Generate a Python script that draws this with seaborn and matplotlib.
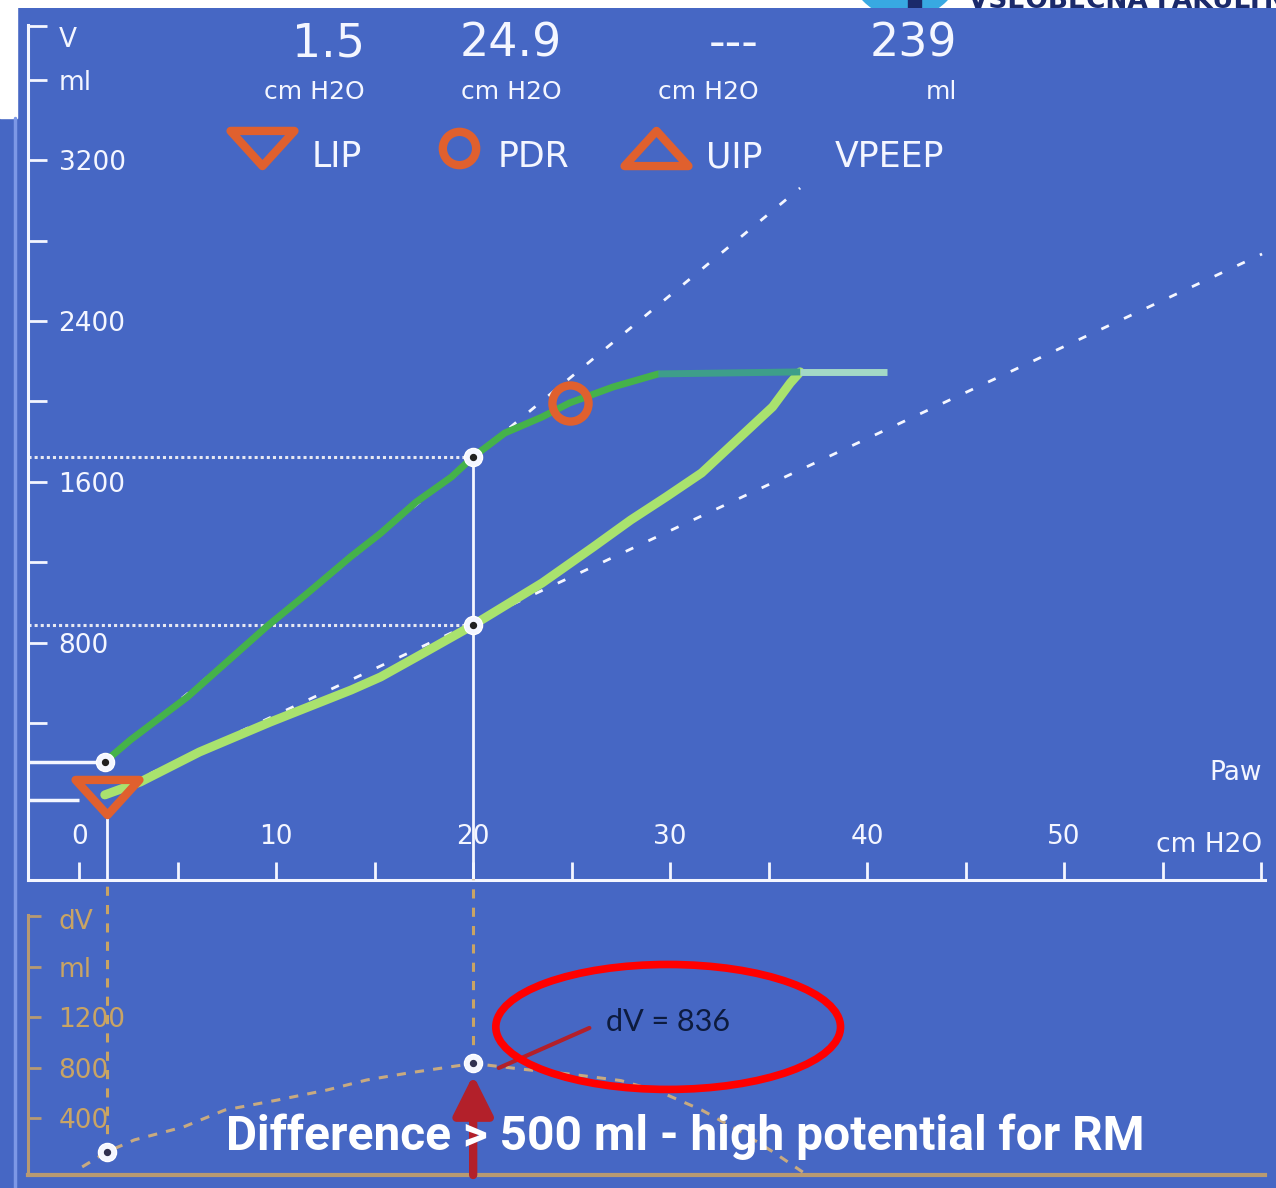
import matplotlib
matplotlib.use("Agg")
import matplotlib.pyplot as plt
from matplotlib.patches import Rectangle, Ellipse, Circle
from matplotlib.lines import Line2D
from matplotlib.path import Path
import seaborn as sns

# ---- values ----
# inflation limb (light green), Paw in cmH2O / V in ml
press_insp = [1.3, 3.1, 6.1, 9.7, 13.8, 15.3, 17.3, 20.0, 23.5, 26.1, 28.0, 29.8,
              31.6, 33.4, 35.2, 36.1, 36.6, 41.0]
vol_insp = [45, 109, 258, 407, 566, 631, 740, 889, 1098, 1277, 1411, 1526,
            1645, 1809, 1973, 2092, 2147, 2147]
# deflation limb (dark green)
press_exp = [1.3, 2.6, 5.5, 9.5, 11.5, 13.8, 15.3, 17.1, 18.9, 20.0, 21.6, 23.5,
             24.9, 27.1, 29.4, 36.6]
vol_exp = [209, 318, 532, 880, 1040, 1230, 1345, 1500, 1625, 1725, 1843, 1923,
           1993, 2072, 2137, 2147]
# dashed tangent lines
tan1_p = [1.3, 36.6]
tan1_v = [209, 3061]
tan2_p = [1.3, 60.05]
tan2_v = [45, 2733]
# dV between limbs
press_dv = [0.15, 1.4, 2.8, 5.3, 7.4, 10.1, 12.6, 14.6, 16.7, 18.8, 20.0, 22.5,
            25.0, 27.5, 29.5, 31.6, 33.7, 35.3, 36.8]
dv_vals = [16, 135, 230, 333, 467, 547, 626, 705, 760, 808, 836, 790,
           750, 700, 610, 467, 285, 127, -32]

lip_p, lip_v = 1.4, 35
pdr_p, pdr_v = 24.9, 1993
sel_p = 20.0
sel_v_exp, sel_v_insp = 1725, 889
start_v_exp = 209
dv_sel = 836
dv_start_p, dv_start = 1.4, 135

header_vals = ["1.5", "24.9", "---", "239"]
header_units = ["cm H2O", "cm H2O", "cm H2O", "ml"]
header_names = ["LIP", "PDR", "UIP", "VPEEP"]

v_ticks = [400, 800, 1200, 1600, 2000, 2400, 2800, 3200, 3600, 3865]
v_labels = ["", "800", "", "1600", "", "2400", "", "3200", "ml", ""]
p_ticks = list(range(0, 65, 5))
p_labels = [str(t) if t % 10 == 0 and t <= 50 else "" for t in p_ticks]
dv_ticks = [400, 800, 1200, 1600, 2005]
dv_labels = ["400", "800", "1200", "ml", ""]

BLUE = "#4667C4"
WHITE = "#F4F6FF"
GREEN_D = "#45B24A"
GREEN_L = "#A9E26E"
ORANGE = "#E0602E"
TAN = "#C9A464"
DRED = "#B3202A"

sns.set_style("white")
plt.rcParams["font.family"] = ["DejaVu Sans"]

W, H = 1276, 1188
fig = plt.figure(figsize=(W / 100, H / 100), dpi=100, facecolor=BLUE)


def box(left, top, right, bottom):
    return [left / W, 1 - bottom / H, (right - left) / W, (bottom - top) / H]


def fpt(px, py):
    return px / W, 1 - py / H


ax = fig.add_axes(box(28, 25, 1265, 880))
ax_dv = fig.add_axes(box(28, 915, 1265, 1175))

for a in (ax, ax_dv):
    a.set_facecolor("none")
    a.spines[["top", "right"]].set_visible(False)
    a.grid(False)

LBL_X = 31 / 1237  # tick-label column, in axes fraction

# ---- main P-V panel ----
ax.set_xlim(-2.6, 60.2)
ax.set_ylim(-378, 3871)
for s in ("left", "bottom"):
    ax.spines[s].set_color(WHITE)
    ax.spines[s].set_linewidth(2.2)
ax.set_xticks(p_ticks, labels=p_labels)
ax.set_yticks(v_ticks, labels=v_labels)
ax.tick_params(axis="x", bottom=True, direction="in", length=13, width=2,
               colors=WHITE, labelsize=19, pad=-40)
ax.tick_params(axis="y", left=True, direction="in", length=14, width=2,
               colors=WHITE, labelsize=19, pad=-22)
plt.setp(ax.get_yticklabels(), ha="left")
ax.text(LBL_X, 3796, "V", color=WHITE, fontsize=19, va="center",
        transform=ax.get_yaxis_transform())
ax.text(60.05, 155, "Paw", color=WHITE, fontsize=19, ha="right", va="center")
ax.text(60.05, -205, "cm H2O", color=WHITE, fontsize=19, ha="right", va="center")

# guide lines
ax.hlines([sel_v_exp, sel_v_insp], -2.6, sel_p, colors="#E6E8F2",
          linestyles=(0, (1, 1)), lw=2.2, zorder=2)
ax.hlines(start_v_exp, -2.6, 0.9, colors=WHITE, lw=2.5, zorder=2)
ax.hlines(20, -2.6, 0.0, colors=WHITE, lw=2.5, zorder=2)
ax.vlines(sel_p, -378, sel_v_exp, colors=WHITE, lw=2, zorder=2)
ax.vlines(lip_p, -378, -60, colors=WHITE, lw=2, zorder=2)

# tangents
for tp, tv in ((tan1_p, tan1_v), (tan2_p, tan2_v)):
    ax.plot(tp, tv, color=WHITE, lw=2, dashes=(3, 6), zorder=2)

# loops
sns.lineplot(x=press_insp[:-1], y=vol_insp[:-1], sort=False, estimator=None,
             color=GREEN_L, lw=6.5, ax=ax, zorder=3)
ax.plot(press_insp[-2:], vol_insp[-2:], color="#A3D9C6", lw=5, zorder=3,
        solid_capstyle="butt")
sns.lineplot(x=press_exp[:-1], y=vol_exp[:-1], sort=False, estimator=None,
             color=GREEN_D, lw=5, ax=ax, zorder=4)
ax.plot(press_exp[-2:], vol_exp[-2:], color="#3E9E8A", lw=5, zorder=4,
        solid_capstyle="butt")

# points
ax.scatter([sel_p, sel_p, 1.3], [sel_v_exp, sel_v_insp, start_v_exp], s=170,
           c=WHITE, edgecolors="white", zorder=6)
ax.scatter([sel_p, sel_p, 1.3], [sel_v_exp, sel_v_insp, start_v_exp], s=18,
           c="#202020", zorder=7)

tri_down = Path([(-1, 0.55), (1, 0.55), (0, -0.55), (-1, 0.55)],
                [Path.MOVETO, Path.LINETO, Path.LINETO, Path.CLOSEPOLY])
tri_up = Path([(-1, -0.55), (1, -0.55), (0, 0.55), (-1, -0.55)],
              [Path.MOVETO, Path.LINETO, Path.LINETO, Path.CLOSEPOLY])
ax.plot([lip_p], [lip_v], marker=tri_down, ms=46, mfc="none", mec=ORANGE,
        mew=6, zorder=8)
ax.plot([pdr_p], [pdr_v], marker="o", ms=26, mfc="none", mec=ORANGE,
        mew=6, zorder=8)

# header readouts
right_edges = [365, 562, 759, 957]
icon_marks = [tri_down, "o", tri_up, None]
for re_, val, unit, name, mk in zip(right_edges, header_vals, header_units,
                                    header_names, icon_marks):
    fig.text(*fpt(re_, 44), val, color=WHITE, fontsize=33, ha="right", va="center")
    fig.text(*fpt(re_, 92), unit, color=WHITE, fontsize=18, ha="right", va="center")
    if mk is None:
        fig.text(*fpt(re_ - 122, 157), name, color=WHITE, fontsize=25,
                 ha="left", va="center")
    else:
        lx = re_ - 53 if name != "PDR" else re_ - 64
        fig.text(*fpt(lx, 157), name, color=WHITE, fontsize=25,
                 ha="left", va="center")
        ms = 46 if mk != "o" else 24
        ax.plot([fpt(re_ - 103, 148)[0]], [fpt(re_ - 103, 148)[1]], marker=mk,
                ms=ms, mfc="none", mec=ORANGE, mew=6, clip_on=False,
                transform=fig.transFigure)

# ---- dV panel ----
ax_dv.set_xlim(-2.6, 60.2)
ax_dv.set_ylim(-48, 2012)
for s in ("left", "bottom"):
    ax_dv.spines[s].set_color("#B89A72")
ax_dv.spines["left"].set_linewidth(2.2)
ax_dv.spines["bottom"].set_linewidth(3)
ax_dv.set_xticks([])
ax_dv.set_yticks(dv_ticks, labels=dv_labels)
ax_dv.tick_params(axis="y", left=True, direction="in", length=9, width=2,
                  colors="#B89A72", labelcolor=TAN, labelsize=19, pad=-22)
plt.setp(ax_dv.get_yticklabels(), ha="left")
ax_dv.text(LBL_X, 1955, "dV", color=TAN, fontsize=19, va="center",
           transform=ax_dv.get_yaxis_transform())

ax_dv.vlines([lip_p, sel_p], [dv_start, dv_sel], 2300, colors=TAN,
             linestyles=(0, (3, 3)), lw=2.2, clip_on=False)
ax_dv.plot(press_dv, dv_vals, color="#C8AA80", lw=2.2, dashes=(3, 3))
ax_dv.scatter([dv_start_p, sel_p], [dv_start, dv_sel], s=170, c=WHITE,
              edgecolors="white", zorder=6)
ax_dv.scatter([dv_start_p, sel_p], [dv_start, dv_sel], s=18, c="#303050", zorder=7)

# annotations
ax_dv.annotate("", xy=(sel_p, 744), xytext=(sel_p, -48),
               arrowprops=dict(arrowstyle="-|>,head_length=0.8,head_width=0.4",
                               color=DRED, lw=6, shrinkA=0, shrinkB=0,
                               mutation_scale=30), zorder=5)
ax_dv.plot([21.3, 25.9], [800, 1117], color=DRED, lw=3, zorder=5)
ax_dv.add_patch(Ellipse((29.9, 1125), 17.5, 990, fill=False, ec="#FF0000",
                        lw=5.5, zorder=6, clip_on=False))
ax_dv.text(29.9, 1164, f"dV = {dv_sel}", color="#0D1B3E", fontsize=22,
           family="Lato", ha="center", va="center", zorder=7)

fig.text(*fpt(685, 1137), "Difference > 500 ml - high potential for RM",
         color="white", fontsize=34.5, weight="bold", family="Roboto",
         ha="center", va="center", zorder=10)

# ---- screenshot frame: white slide corner, logo strip ----
fig.add_artist(Rectangle((0, 1 - 118 / H), 17 / W, 118 / H, color="white",
                         transform=fig.transFigure))
fig.add_artist(Line2D([15 / W, 15 / W], [0, 1 - 118 / H], color="#7D98E6",
                      lw=2.5, transform=fig.transFigure))
ax_top = fig.add_axes(box(0, 0, W, 8))
ax_top.set_facecolor("white")
ax_top.set_xlim(0, W)
ax_top.set_ylim(8, 0)
ax_top.set_xticks([])
ax_top.set_yticks([])
for s in ax_top.spines.values():
    s.set_visible(False)
ax_top.add_patch(Circle((905, -40), 58, color="#38A9E2"))
ax_top.add_patch(Rectangle((908, -40), 13, 48, color="#1B2A6B"))
ax_top.text(968, 8, "VŠEOBECNÁ FAKULTNÍ", color="#1B2A6B", fontsize=19,
            weight="bold", va="baseline", clip_on=True)

fig.savefig("out.png", dpi=100, facecolor=BLUE)
